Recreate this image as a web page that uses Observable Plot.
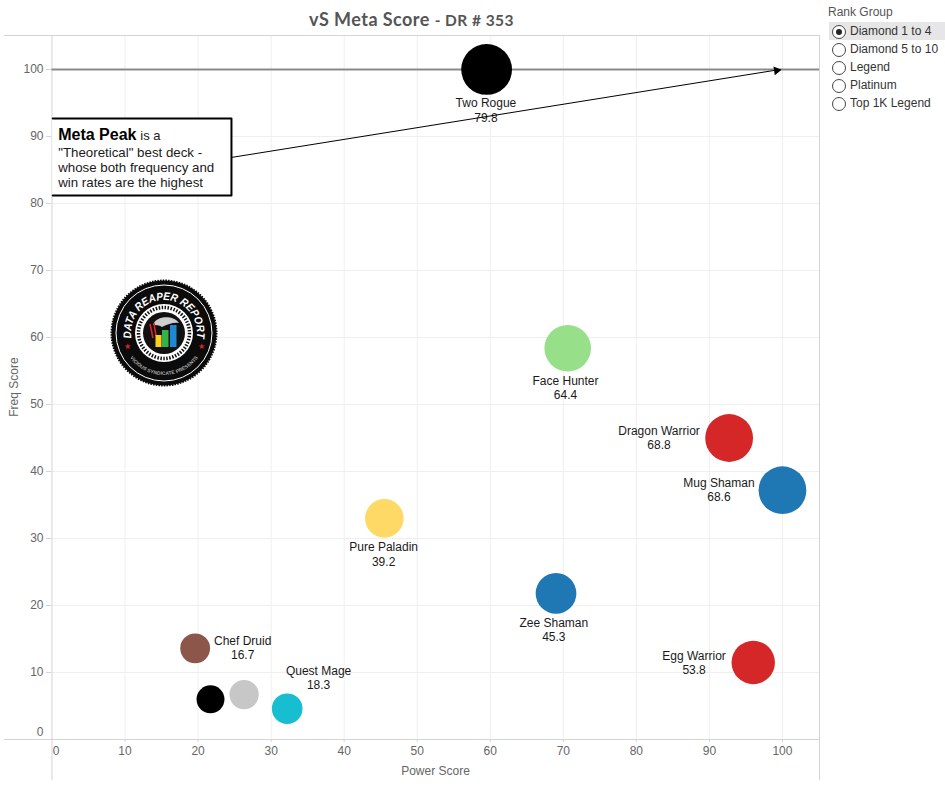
<!DOCTYPE html>
<html><head><meta charset="utf-8">
<script src="https://cdn.jsdelivr.net/npm/d3@7"></script>
<script src="https://cdn.jsdelivr.net/npm/@observablehq/plot@0.6"></script>
<style>
html,body{margin:0;padding:0;background:#fff;overflow:hidden}
body{width:945px;height:788px;position:relative;font-family:"Liberation Sans",Arial,sans-serif}
#chart{position:absolute;left:0;top:0}
#title{position:absolute;left:4px;width:815px;top:8px;text-align:center;color:#555;font-family:Lato,"Open Sans",sans-serif;font-size:18px;font-weight:700;line-height:22px;letter-spacing:.45px}
#title span{font-size:15.5px}
#legend{position:absolute;left:829px;top:0;width:116px;font-size:12px;color:#333}
#legend .h{position:absolute;left:-1px;top:5px;color:#555;line-height:14px}
#legend .r{position:absolute;left:0;width:116px;height:18px;line-height:18px}
#legend .r.on{background:#e6e6e6}
#legend i{position:absolute;left:3px;top:2.5px;width:12px;height:12px;border:1px solid #444;border-radius:50%;background:#fff;box-sizing:content-box}
#legend .on i::after{content:"";position:absolute;left:3px;top:3px;width:6px;height:6px;border-radius:50%;background:#222}
#legend b{position:absolute;left:21px;font-weight:400;white-space:nowrap}
#logo{position:absolute;left:106px;top:275px}
</style></head>
<body>
<div id="chart"></div>
<div id="title">vS Meta Score <span>- DR # 353</span></div>
<div id="legend"></div>
<svg id="logo" width="116" height="116" viewBox="-58 -58 116 116">
  <defs>
    <path id="arcTop" d="M-32.5,5.7 A33,33 0 1 1 32.5,5.7"/>
    <path id="arcBot" d="M-35.6,22.3 A42,42 0 0 0 35.6,22.3"/>
  </defs>
  <circle r="52.5" fill="#0b0b0b" stroke="#0b0b0b" stroke-width="2" stroke-dasharray="1.5 1.2"/>
  <circle r="48" fill="none" stroke="#fff" stroke-width="1"/>
  <text font-family="Liberation Sans" font-size="11" font-weight="700" font-style="italic" fill="#fff"><textPath href="#arcTop" startOffset="50%" text-anchor="middle" textLength="114" lengthAdjust="spacingAndGlyphs">DATA REAPER REPORT</textPath></text>
  <text font-family="Liberation Sans" font-size="5" font-weight="700" fill="#aaa"><textPath href="#arcBot" startOffset="50%" text-anchor="middle">VICIOUS SYNDICATE PRESENTS</textPath></text>
  <text x="-37" y="16" font-size="8" fill="#d9232a" text-anchor="middle">★</text>
  <text x="37" y="16" font-size="8" fill="#d9232a" text-anchor="middle">★</text>
  <circle r="29" fill="#fff"/>
  <circle r="25.5" fill="none" stroke="#111" stroke-width="3.5" stroke-dasharray="1.5 1.5"/>
  <circle r="21" fill="#111"/>
  <path d="M-11,-8 C-8,-18 10,-18 15,-10 C10,-11 4,-9 -2,-6 C-5,-8 -8,-8 -11,-8Z" fill="#cfcfcf"/>
  <path d="M-14,-9 L-11,5 M-10,-10 L-8,3" stroke="#d9232a" stroke-width="1.6" fill="none"/>
  <rect x="-8.5" y="2" width="6" height="12" fill="#fbd11f"/>
  <rect x="-2" y="-3" width="6.5" height="17" fill="#33b44a"/>
  <rect x="6" y="-8" width="6.5" height="22" fill="#1e88d2"/>
</svg>
<script>
// Data
const names   = ["Two Rogue","Face Hunter","Dragon Warrior","Mug Shaman","Pure Paladin","Zee Shaman","Egg Warrior","Chef Druid","","","Quest Mage"];
const classes = ["Rogue","Hunter","Warrior","Shaman","Paladin","Shaman","Warrior","Druid","Warlock","Priest","Mage"];
const power   = [59.5,70.6,92.7,100,45.5,69.0,96.0,19.6,21.7,26.3,32.2];
const freq    = [100,58.4,45.0,37.2,33.0,21.8,11.5,13.6,6.0,6.7,4.6];
const meta    = [79.8,64.4,68.8,68.6,39.2,45.3,53.8,16.7,12.5,15.5,18.3];
const labelX  = [59.4,70.3,83.1,91.3,45.4,68.7,87.9,26.1,null,null,36.5];
const labelY  = [93.95,52.5,45.1,37.3,27.7,16.4,11.5,13.7,null,null,9.2];
const classDomain = ["Rogue","Hunter","Warrior","Shaman","Paladin","Druid","Warlock","Priest","Mage"];
const classRange  = ["#000000","#98df8a","#d62728","#1f77b4","#ffd966","#8c564b","#000000","#c7c7c7","#17becf"];
const ticks = [10,20,30,40,50,60,70,80,90,100];
const rankGroups = ["Diamond 1 to 4","Diamond 5 to 10","Legend","Platinum","Top 1K Legend"];
const boxPath = [[0.1,92.69],[24.57,92.69],[24.57,81.2],[0.1,81.2]];
const arrowFrom = [24.57,86.87], arrowTo = [99.7,100], arrowHead = [99.2,99.85];
const noteLines = ["\"Theoretical\" best deck -\nwhose both frequency and\nwin rates are the highest"];

const decks = names.map((name,i)=>({name,cls:classes[i],x:power[i],y:freq[i],m:meta[i],lx:labelX[i],ly:labelY[i]}));
const xMin=-6.5,xMax=105.07,yMin=-6.12,yMax=105.07;
const GRID="#efefef",AXIS="#d4d4d4",TICK="#666";

const plot = Plot.plot({
  width:945,height:788,marginLeft:4,marginRight:126,marginTop:35,marginBottom:8,
  style:{fontFamily:'"Liberation Sans",Arial,sans-serif',fontSize:"12px",background:"transparent"},
  x:{domain:[xMin,xMax],axis:null},
  y:{domain:[yMin,yMax],axis:null},
  r:{type:"sqrt",domain:[0,96.4],range:[0,25.4]},
  color:{domain:classDomain,range:classRange},
  marks:[
    Plot.ruleX(ticks,{y1:0,y2:yMax,stroke:GRID}),
    Plot.ruleY(ticks.filter(d=>d<100),{x1:0,x2:xMax,stroke:GRID}),
    Plot.ruleY([yMax,0],{x1:xMin,x2:xMax,stroke:AXIS}),
    Plot.ruleX([0,xMax],{y1:yMin,y2:yMax,stroke:AXIS}),
    Plot.ruleY([100],{x1:0,x2:xMax,stroke:"#8a8a8a",strokeWidth:2}),
    Plot.axisY(ticks,{anchor:"left",dx:47,tickSize:5,tickPadding:3,stroke:AXIS,fill:TICK,label:null,fontSize:12}),
    Plot.axisY([0],{anchor:"left",dx:47,dy:-7,tickSize:0,tickPadding:8,fill:TICK,label:null,fontSize:12}),
    Plot.axisX(ticks,{anchor:"bottom",dy:-41,tickSize:3,tickPadding:4,stroke:AXIS,fill:TICK,label:null,fontSize:12}),
    Plot.axisX([0],{anchor:"bottom",dy:-41,dx:4,tickSize:0,tickPadding:7,fill:TICK,label:null,fontSize:12}),
    Plot.text(["Power Score"],{x:52.5,y:yMin,dy:-9,fill:TICK,fontSize:12,text:d=>d}),
    Plot.text(["Freq Score"],{x:xMin,y:52.6,dx:10,rotate:-90,fill:TICK,fontSize:12,text:d=>d}),
    Plot.dot(decks,{x:"x",y:"y",r:d=>d.m+16.6,fill:"cls",stroke:"none"}),
    Plot.text(decks.filter(d=>d.name),{x:"lx",y:"ly",text:d=>`${d.name}\n${d.m}`,fill:"#1a1a1a",fontSize:12,lineHeight:1.18}),
    Plot.rect([0],{x1:0.1,x2:24.57,y1:81.2,y2:92.69,fill:"#fff"}),
    Plot.line(boxPath,{x:d=>d[0],y:d=>d[1],stroke:"#000",strokeWidth:2,curve:"linear"}),
    Plot.link([0],{x1:arrowFrom[0],y1:arrowFrom[1],x2:arrowTo[0],y2:arrowTo[1],stroke:"#000",strokeWidth:1}),
    Plot.dot([arrowHead],{x:d=>d[0],y:d=>d[1],symbol:"triangle2",r:4.2,rotate:81,fill:"#000",stroke:"none"}),
    Plot.text(["Meta Peak"],{x:0.85,y:90.2,textAnchor:"start",fontWeight:700,fontSize:16,fill:"#000"}),
    Plot.text(["is a"],{x:12.1,y:90.05,textAnchor:"start",fontSize:13,fill:"#1a1a1a"}),
    Plot.text(noteLines,{x:0.85,y:85.4,textAnchor:"start",fontSize:13.3,lineHeight:1.1,fill:"#1a1a1a"})
  ]
});
document.getElementById("chart").appendChild(plot);

const lg=document.getElementById("legend");
lg.innerHTML='<div class="h">Rank Group</div>'+rankGroups.map((g,i)=>`<div class="r${i==0?" on":""}" style="top:${22+18*i}px"><i></i><b>${g}</b></div>`).join("");
</script>
</body></html>
